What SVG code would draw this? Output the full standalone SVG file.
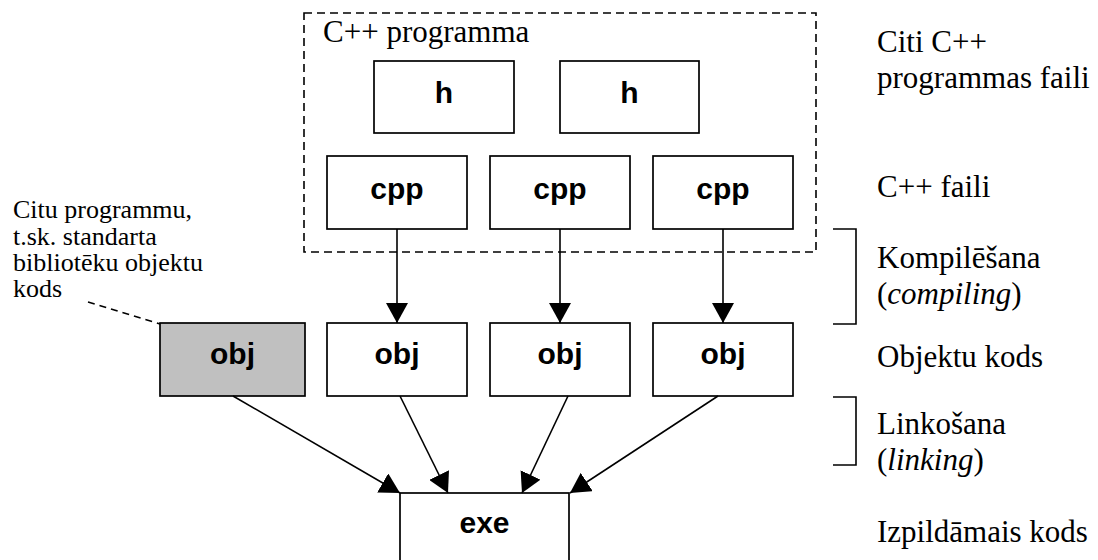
<svg xmlns="http://www.w3.org/2000/svg" width="1098" height="560" viewBox="0 0 1098 560">
<style>
.box{fill:#fff;stroke:#000;stroke-width:1.7}
.gray{fill:#c0c0c0;stroke:#000;stroke-width:1.7}
.lbl{font-family:"Liberation Sans",Arial,sans-serif;font-weight:bold;font-size:30px;text-anchor:middle;fill:#000}
.txt{font-family:"Liberation Serif","Times New Roman",serif;font-size:31px;fill:#000}
.small{font-family:"Liberation Serif","Times New Roman",serif;font-size:26px;fill:#000}
.conn{stroke:#000;stroke-width:1.6;fill:none}
.dash{stroke:#000;stroke-width:1.6;fill:none;stroke-dasharray:8,5}
</style>
<defs>
<marker id="ah" markerUnits="userSpaceOnUse" markerWidth="20" markerHeight="22" viewBox="0 0 20 22" refX="20" refY="11" orient="auto">
<path d="M0,0 L20,11 L0,22 Z" fill="#000"/>
</marker>
</defs>
<g id="program-boundary">
<rect x="304" y="13" width="512" height="239" class="dash"/>
<text x="323" y="42" class="txt">C++ programma</text>
</g>
<g id="h1"><rect x="374" y="61" width="140" height="72" class="box"/><text x="444" y="103" class="lbl">h</text></g>
<g id="h2"><rect x="560" y="61" width="139" height="72" class="box"/><text x="629.5" y="103" class="lbl">h</text></g>
<g id="cpp1"><rect x="327" y="156" width="140" height="73" class="box"/><text x="397" y="199" class="lbl">cpp</text></g>
<g id="cpp2"><rect x="490" y="156" width="140" height="73" class="box"/><text x="560" y="199" class="lbl">cpp</text></g>
<g id="cpp3"><rect x="653" y="156" width="140" height="73" class="box"/><text x="723" y="199" class="lbl">cpp</text></g>
<g id="obj0"><rect x="160" y="323" width="145" height="73" class="gray"/><text x="232.5" y="364" class="lbl">obj</text></g>
<g id="obj1"><rect x="327" y="323" width="140" height="73" class="box"/><text x="397" y="364" class="lbl">obj</text></g>
<g id="obj2"><rect x="490" y="323" width="140" height="73" class="box"/><text x="560" y="364" class="lbl">obj</text></g>
<g id="obj3"><rect x="653" y="323" width="140" height="73" class="box"/><text x="723" y="364" class="lbl">obj</text></g>
<g id="exe"><rect x="400" y="493" width="169" height="80" class="box"/><text x="484.5" y="533" class="lbl">exe</text></g>
<g id="connectors">
<line x1="397" y1="229" x2="397" y2="323" class="conn" marker-end="url(#ah)"/>
<line x1="560" y1="229" x2="560" y2="323" class="conn" marker-end="url(#ah)"/>
<line x1="723" y1="229" x2="723" y2="323" class="conn" marker-end="url(#ah)"/>
<line x1="233" y1="396" x2="400" y2="493" class="conn" marker-end="url(#ah)"/>
<line x1="400" y1="396" x2="448" y2="493" class="conn" marker-end="url(#ah)"/>
<line x1="568" y1="396" x2="522" y2="493" class="conn" marker-end="url(#ah)"/>
<line x1="718" y1="396" x2="570" y2="493" class="conn" marker-end="url(#ah)"/>
<line x1="88" y1="302" x2="160" y2="324" class="conn" stroke-dasharray="7,5"/>
<polyline points="833,229 856,229 856,324 833,324" class="conn"/>
<polyline points="833,397 856,397 856,465 833,465" class="conn"/>
</g>
<g id="annotations">
<text class="small"><tspan x="13" y="218">Citu programmu,</tspan><tspan x="13" y="245">t.sk. standarta</tspan><tspan x="13" y="271">bibliotēku objektu</tspan><tspan x="13" y="297">kods</tspan></text>
<text x="877" y="52" class="txt">Citi C++</text>
<text x="877" y="88" class="txt">programmas faili</text>
<text x="877" y="197" class="txt">C++ faili</text>
<text x="877" y="268" class="txt">Kompilēšana</text>
<text x="877" y="304" class="txt">(<tspan font-style="italic">compiling</tspan>)</text>
<text x="877" y="367" class="txt">Objektu kods</text>
<text x="877" y="434" class="txt">Linkošana</text>
<text x="877" y="470" class="txt">(<tspan font-style="italic">linking</tspan>)</text>
<text x="877" y="542" class="txt">Izpildāmais kods</text>
</g>
</svg>
